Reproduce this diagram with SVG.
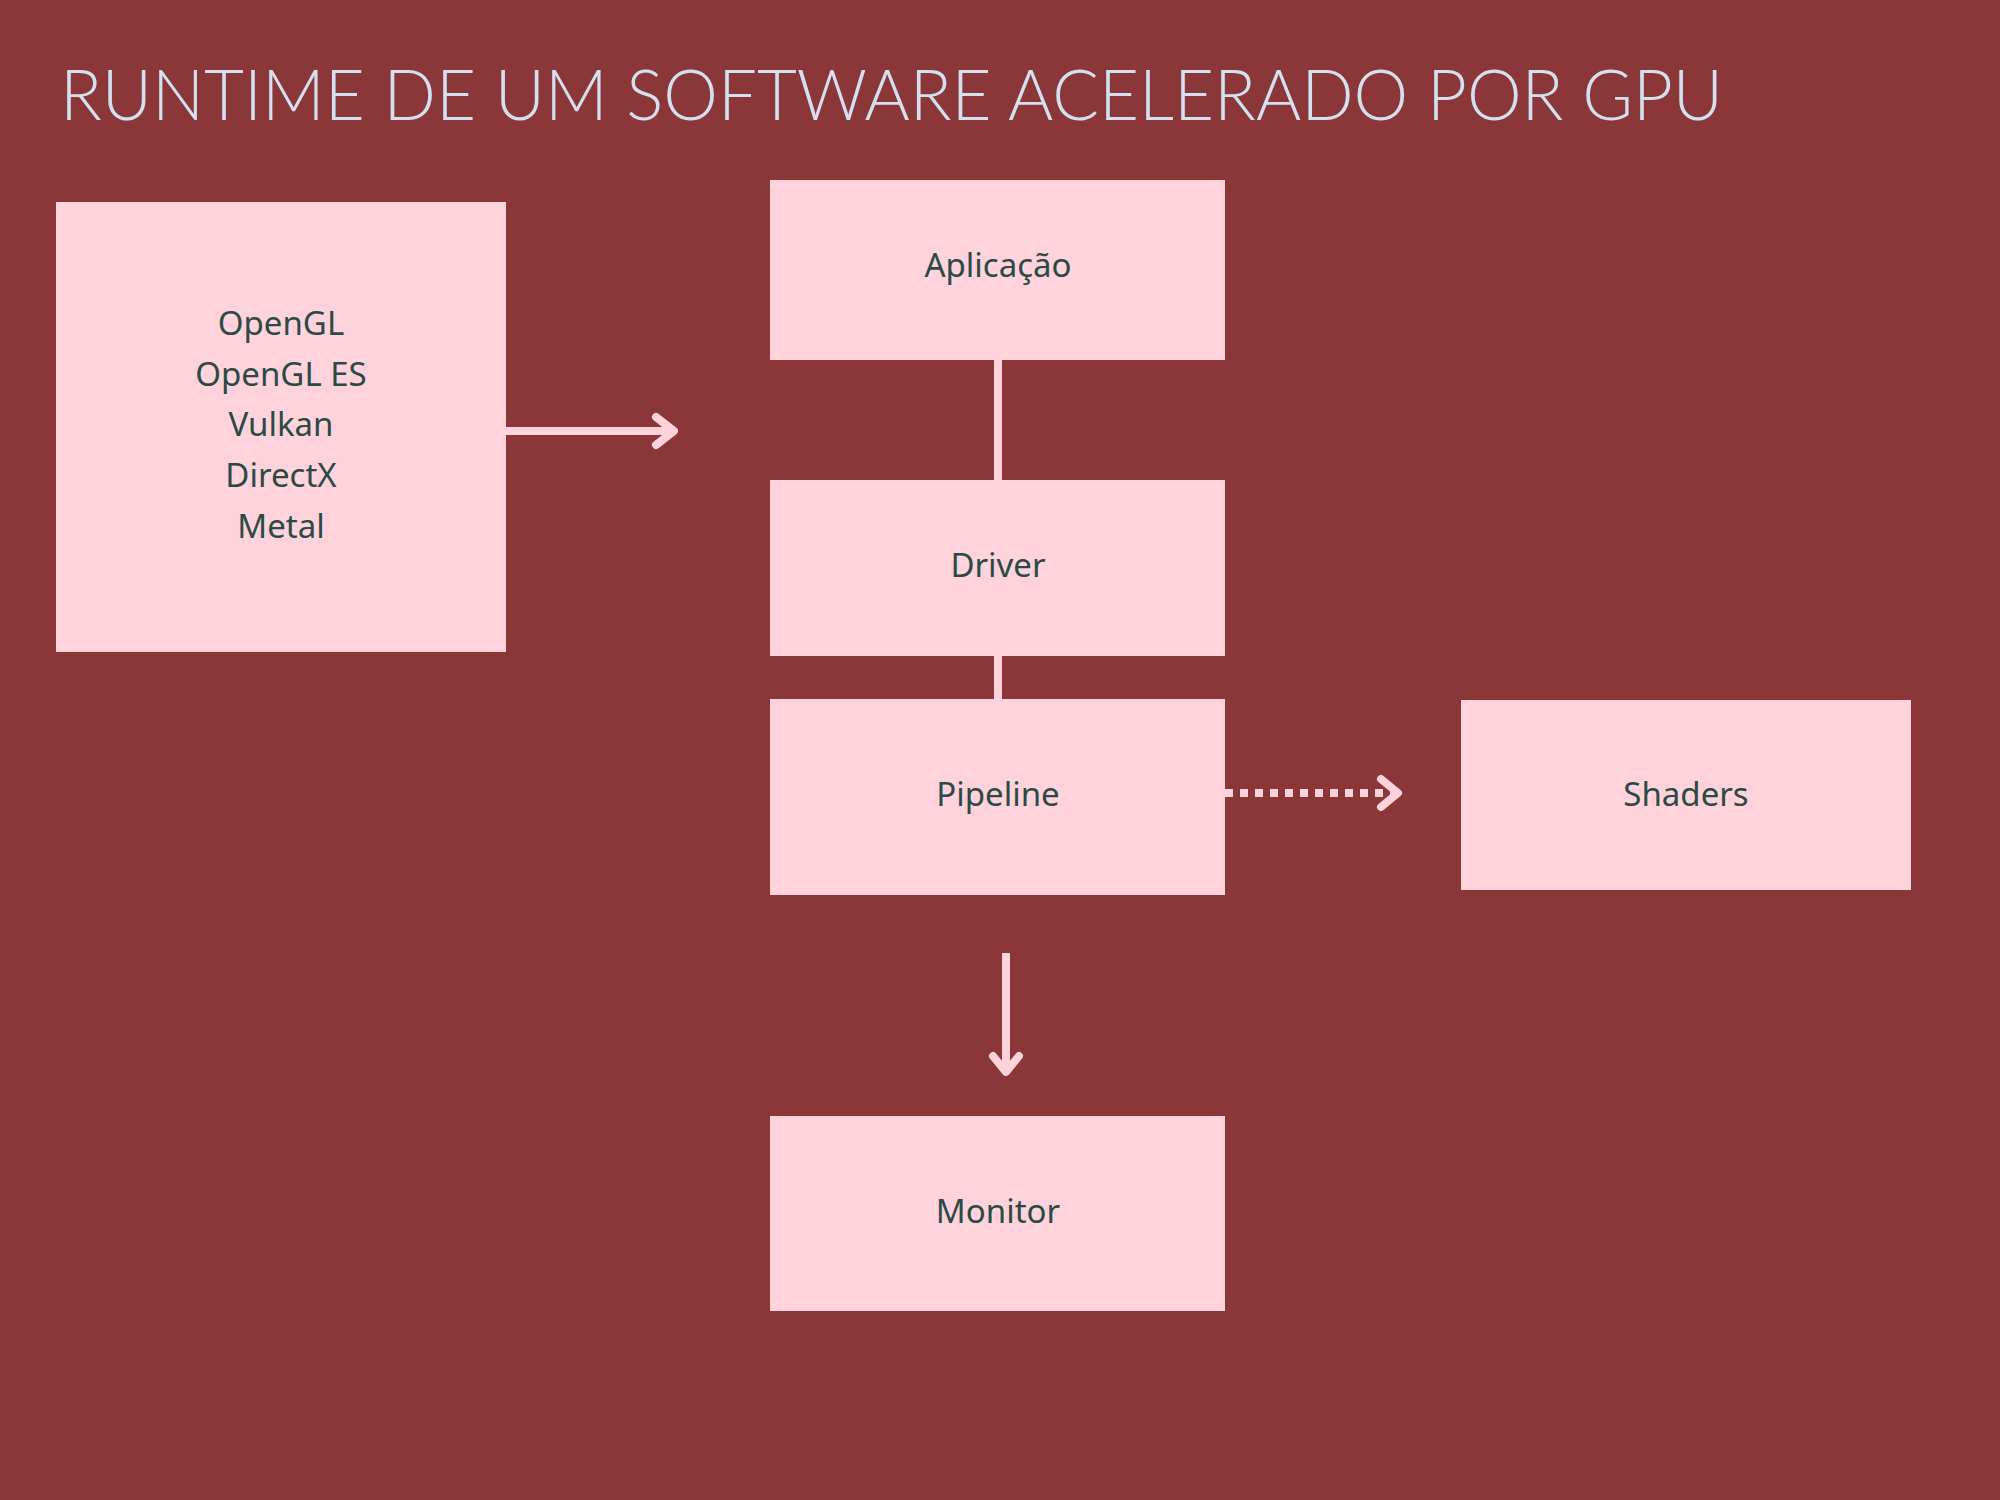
<svg xmlns="http://www.w3.org/2000/svg" width="2000" height="1500" viewBox="0 0 2000 1500">
<defs>
<style>
.bg{fill:#8B3739}
.box{fill:#FFD3DB}
.lbl{font-family:"Noto Sans","Open Sans","Liberation Sans",sans-serif;font-size:33px;fill:#2C4A45;text-anchor:middle}
.title{font-family:Lato,"Noto Sans","Liberation Sans",sans-serif;font-weight:300;font-size:71px;fill:#D3E1EE}
.ln{stroke:#FFD3DB;stroke-width:8;fill:none}
.ah{stroke:#FFD3DB;stroke-width:8;fill:none;stroke-linecap:round;stroke-linejoin:round}
.dot{stroke:#FFD3DB;stroke-width:8;fill:none;stroke-dasharray:8 7}
</style>
</defs>
<rect class="bg" x="0" y="0" width="2000" height="1500"/>
<text class="title" x="60" y="120" textLength="1663" lengthAdjust="spacingAndGlyphs">RUNTIME DE UM SOFTWARE ACELERADO POR GPU</text>
<g id="connectors">
<line class="ln" x1="998" y1="360" x2="998" y2="480"/>
<line class="ln" x1="998" y1="656" x2="998" y2="699"/>
<line class="ln" x1="506" y1="431" x2="672" y2="431"/>
<polyline class="ah" points="656,417 674,431 656,445"/>
<line class="dot" x1="1225" y1="793" x2="1394" y2="793"/>
<polyline class="ah" points="1381,779 1398,793 1381,807"/>
<line class="ln" x1="1006" y1="953" x2="1006" y2="1070"/>
<polyline class="ah" points="993,1056 1006,1072 1019,1056"/>
</g>
<g id="apis">
<rect class="box" x="56" y="202" width="450" height="450"/>
<text class="lbl" x="281" y="335">OpenGL</text>
<text class="lbl" x="281" y="386">OpenGL ES</text>
<text class="lbl" x="281" y="436">Vulkan</text>
<text class="lbl" x="281" y="487">DirectX</text>
<text class="lbl" x="281" y="538">Metal</text>
</g>
<g id="aplicacao">
<rect class="box" x="770" y="180" width="455" height="180"/>
<text class="lbl" x="998" y="277">Aplicação</text>
</g>
<g id="driver">
<rect class="box" x="770" y="480" width="455" height="176"/>
<text class="lbl" x="998" y="577">Driver</text>
</g>
<g id="pipeline">
<rect class="box" x="770" y="699" width="455" height="196"/>
<text class="lbl" x="998" y="806">Pipeline</text>
</g>
<g id="shaders">
<rect class="box" x="1461" y="700" width="450" height="190"/>
<text class="lbl" x="1686" y="806">Shaders</text>
</g>
<g id="monitor">
<rect class="box" x="770" y="1116" width="455" height="195"/>
<text class="lbl" x="998" y="1223">Monitor</text>
</g>
</svg>
